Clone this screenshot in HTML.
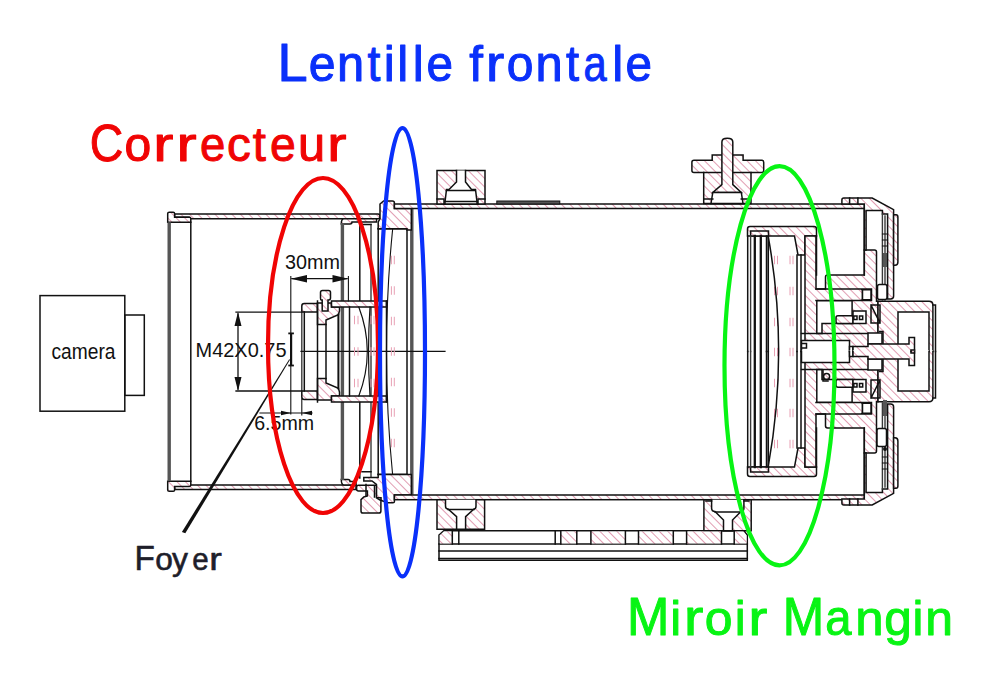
<!DOCTYPE html>
<html><head><meta charset="utf-8"><title>Diagram</title>
<style>
html,body{margin:0;padding:0;background:#fff;width:1000px;height:700px;overflow:hidden}
svg{display:block}
text{font-family:"Liberation Sans",sans-serif}
.k{fill:none;stroke:#111;stroke-width:1.5;stroke-linecap:square}
.g{fill:none;stroke:#3a3a3a;stroke-width:1.4;stroke-linecap:square}
.h{fill:url(#hat);stroke:#111;stroke-width:1.5}
.gb{fill:none;stroke:#555;stroke-width:3.4}
.hs{fill:url(#hat);stroke:none}
.ws{fill:#fff;stroke:none}
.d{stroke:#e8a0b4;stroke-width:1}
</style></head>
<body>
<svg width="1000" height="700" viewBox="0 0 1000 700">
<defs>
<pattern id="hat" patternUnits="userSpaceOnUse" width="6" height="6" patternTransform="rotate(-45)">
<rect width="6" height="6" fill="#fff"/>
<line x1="0" y1="0" x2="0" y2="6" stroke="#c43c66" stroke-width="1"/>
</pattern>
</defs>
<rect width="1000" height="700" fill="#fff"/>

<!-- labels -->
<g fill="#0a30fa" stroke="#0a30fa" stroke-width="1" stroke-linejoin="round" aria-label="Lentille frontale">
<text transform="matrix(1.0040 0 0 1 277.60 0)" y="80.6" font-size="54">L</text>
<text transform="matrix(0.9732 0 0 1 308.65 0)" y="80.6" font-size="49.5">e</text>
<text transform="matrix(0.9874 0 0 1 337.12 0)" y="80.6" font-size="49.5">n</text>
<text transform="matrix(0.9328 0 0 1 367.41 0)" y="80.6" font-size="49.5">t</text>
<text transform="matrix(1.0000 0 0 1 383.76 0)" y="80.6" font-size="49.5">i</text>
<text transform="matrix(1.0000 0 0 1 397.24 0)" y="80.6" font-size="49.5">l</text>
<text transform="matrix(1.0000 0 0 1 412.74 0)" y="80.6" font-size="49.5">l</text>
<text transform="matrix(0.9621 0 0 1 426.55 0)" y="80.6" font-size="49.5">e</text>
<text transform="matrix(0.9953 0 0 1 469.27 0)" y="80.6" font-size="49.5">f</text>
<text transform="matrix(1.1061 0 0 1 486.02 0)" y="80.6" font-size="49.5">r</text>
<text transform="matrix(0.9702 0 0 1 506.65 0)" y="80.6" font-size="49.5">o</text>
<text transform="matrix(0.9874 0 0 1 535.62 0)" y="80.6" font-size="49.5">n</text>
<text transform="matrix(0.9538 0 0 1 566.01 0)" y="80.6" font-size="49.5">t</text>
<text transform="matrix(0.8414 0 0 1 583.53 0)" y="80.6" font-size="49.5">a</text>
<text transform="matrix(1.0000 0 0 1 612.24 0)" y="80.6" font-size="49.5">l</text>
<text transform="matrix(0.9621 0 0 1 625.55 0)" y="80.6" font-size="49.5">e</text>
</g>
<g fill="#f00404" stroke="#f00404" stroke-width="1" stroke-linejoin="round" aria-label="Correcteur">
<text transform="matrix(0.8843 0 0 1 89.84 0)" y="161.2" font-size="52.5">C</text>
<text transform="matrix(1.0008 0 0 1 124.39 0)" y="161.2" font-size="48">o</text>
<text transform="matrix(1.2583 0 0 1 153.14 0)" y="161.2" font-size="48">r</text>
<text transform="matrix(1.2583 0 0 1 176.54 0)" y="161.2" font-size="48">r</text>
<text transform="matrix(0.9494 0 0 1 199.92 0)" y="161.2" font-size="48">e</text>
<text transform="matrix(0.9904 0 0 1 226.88 0)" y="161.2" font-size="48">c</text>
<text transform="matrix(0.9853 0 0 1 252.70 0)" y="161.2" font-size="48">t</text>
<text transform="matrix(0.9656 0 0 1 270.06 0)" y="161.2" font-size="48">e</text>
<text transform="matrix(1.0149 0 0 1 298.09 0)" y="161.2" font-size="48">u</text>
<text transform="matrix(1.2042 0 0 1 327.19 0)" y="161.2" font-size="48">r</text>
</g>
<g fill="#1e1e2a" stroke="#1e1e2a" stroke-width="0.6" stroke-linejoin="round" aria-label="Foyer">
<text transform="matrix(0.9519 0 0 1 134.38 0)" y="570.3" font-size="35">F</text>
<text transform="matrix(1.0043 0 0 1 155.20 0)" y="570.3" font-size="31.5">o</text>
<text transform="matrix(1.0124 0 0 1 172.02 0)" y="570.3" font-size="31.5">y</text>
<text transform="matrix(0.9378 0 0 1 192.31 0)" y="570.3" font-size="31.5">e</text>
<text transform="matrix(1.1984 0 0 1 209.27 0)" y="570.3" font-size="31.5">r</text>
</g>
<g fill="#08f414" stroke="#08f414" stroke-width="1" stroke-linejoin="round" aria-label="Miroir Mangin">
<text transform="matrix(0.9412 0 0 1 627.03 0)" y="635.3" font-size="54">M</text>
<text transform="matrix(1.0000 0 0 1 670.37 0)" y="635.3" font-size="49">i</text>
<text transform="matrix(1.1857 0 0 1 683.88 0)" y="635.3" font-size="49">r</text>
<text transform="matrix(1.0187 0 0 1 704.72 0)" y="635.3" font-size="49">o</text>
<text transform="matrix(1.0000 0 0 1 734.77 0)" y="635.3" font-size="49">i</text>
<text transform="matrix(1.1531 0 0 1 748.59 0)" y="635.3" font-size="49">r</text>
<text transform="matrix(0.9204 0 0 1 782.70 0)" y="635.3" font-size="54">M</text>
<text transform="matrix(0.9621 0 0 1 825.24 0)" y="635.3" font-size="49">a</text>
<text transform="matrix(1.0405 0 0 1 855.24 0)" y="635.3" font-size="49">n</text>
<text transform="matrix(1.0105 0 0 1 884.14 0)" y="635.3" font-size="49">g</text>
<text transform="matrix(1.0000 0 0 1 912.62 0)" y="635.3" font-size="49">i</text>
<text transform="matrix(1.0188 0 0 1 925.28 0)" y="635.3" font-size="49">n</text>
</g>
<!-- /labels -->

<!-- camera -->
<rect x="40" y="295.6" width="84.8" height="115.6" class="k"/>
<rect x="124.8" y="315" width="19.5" height="80.4" class="k"/>
<text x="51.5" y="359" font-size="21.5" fill="#111" textLength="64" lengthAdjust="spacingAndGlyphs">camera</text>


<!-- ===== left extension tube ===== -->
<g>
<path class="h" d="M174.6,214 H378 Q380,214 380,216.5 Q380,218.8 378,218.8 H174.6 Z"/>
<path class="h" d="M167.7,222.3 V213.6 Q167.7,212.3 169.2,212.3 H173.2 Q174.6,212.3 174.6,213.6 V217.2 H189.5 Q190.8,217.2 190.8,218.5 V222.3 Z"/>
<path class="k" d="M176,217.2 H189"/>
<path class="h" d="M174.6,485 H356 V489.4 H174.6 Z"/>
<path class="h" d="M167.7,481.2 V490 Q167.7,491.3 169.2,491.3 H173.2 Q174.6,491.3 174.6,490 V486.4 H189.5 Q190.8,486.4 190.8,485 V481.2 Z"/>
<line class="gb" x1="169.2" y1="222.3" x2="169.2" y2="481.2"/>
<line class="k" x1="190.8" y1="222.3" x2="190.8" y2="481.2"/>
<!-- inner sliding tube lip -->
<path class="h" d="M341.3,224 Q341.3,218.8 344,218.8 H376.5 V222 H352 Q352,224 350,224 Z"/>
<path class="h" d="M341.3,479.5 Q341.3,485 344,485 H356 V481.6 H350 Q350,479.5 348,479.5 Z"/>
<line class="gb" x1="342.4" y1="223" x2="342.4" y2="480"/>
<path class="k" d="M359.8,224.5 V301 M359.8,402 V478"/>
<line class="g" x1="371" y1="224.5" x2="371" y2="477"/>
<line class="k" x1="378.2" y1="228.5" x2="378.2" y2="474.5"/>
<line class="k" x1="407" y1="228.5" x2="407" y2="474.5"/>
<line class="k" x1="378.2" y1="228.8" x2="407" y2="228.8"/>
<line class="k" x1="378.2" y1="474.4" x2="407" y2="474.4"/>
<line class="gb" x1="411.8" y1="208.5" x2="411.8" y2="494.7"/>
<path class="k" style="stroke-width:1.1" d="M392.6,229.5 Q380.4,351.5 392.6,474.5"/>
<path class="k" d="M360,224.5 H371 M362,471.7 H371"/>
<!-- front lens flange top -->
<path class="h" d="M380,218.8 V204 L383.6,200.9 H392.4 Q394.4,200.9 394.4,203 V208.5 H411.3 V230 H407 V228.8 H378.2 V222 Z"/>
<!-- front lens flange bottom -->
<path class="h" d="M363.8,477.6 H378.2 V474.4 H411.3 V495 H394.4 V501.8 Q394.4,502.8 393,502.8 H388 L381,500.5 V497.8 H376.4 V484.3 L372,481 H363.8 Z"/>
<!-- bottom knob -->
<path class="h" d="M356.6,487 Q356.6,485.2 358.5,485.2 H376.4 V497.8 L380.9,500.5 V511 Q380.9,513.1 378.8,513.1 H363 Q361,513.1 361,511 V499.6 L363.8,496.9 L367.4,496 V491 H358.5 Q356.6,491 356.6,489 Z"/>
<path class="k" d="M366,484.5 V496 M374.5,486 V497"/>
</g>


<!-- ===== correcteur adapter ===== -->
<g>
<path class="h" d="M301.8,312 V306 Q301.8,303.5 304.3,303.5 H317.5 V312 Z"/>
<path class="h" d="M301.8,391 V397 Q301.8,399.5 304.3,399.5 H317.5 V391 Z"/>
<line class="g" x1="301.8" y1="312" x2="301.8" y2="391"/>
<line class="k" x1="304.3" y1="312" x2="304.3" y2="391"/>
<path class="h" d="M317.5,303 H331.5 V307 H339.5 V311 L338.4,314.6 L326,320 V324.6 H317.5 Z"/>
<path class="h" d="M317.5,400 H331.5 V396 H339.5 V392 L338.4,388.4 L326,383 V378.4 H317.5 Z"/>
<path class="h" d="M322.2,311 V300 H321 Q320.5,300 320.5,298 V292.5 Q320.5,290.5 322.5,290.5 H328.5 Q330.5,290.5 330.5,292.5 V298 Q330.5,300 328.5,300 H328 V311 Z"/>
<path class="h" d="M331.5,301 H386.5 V307 H331.5 Z"/>
<path class="h" d="M331.5,396 H386.5 V402 H331.5 Z"/>
<line class="k" x1="317.5" y1="301" x2="317.5" y2="402"/>
<line class="k" x1="326" y1="324.6" x2="326" y2="378.4"/>
<line class="k" style="stroke-width:2" x1="338.4" y1="314.6" x2="338.4" y2="388.4"/>
<line class="k" x1="349.5" y1="307" x2="349.5" y2="396"/>
<line class="k" x1="386.5" y1="301" x2="386.5" y2="402"/>
<path class="k" style="stroke-width:1.2" d="M358.8,307 Q375.8,351.5 358.8,396"/>
<path class="k" style="stroke-width:1.2" d="M370,307 Q367,351.5 370,396"/>

<line class="k" style="stroke-width:1.2" x1="301" y1="351.3" x2="445" y2="351.3"/>
</g>
<!-- ===== dimensions ===== -->
<g fill="#111">
<text x="285" y="269" font-size="21" textLength="55" lengthAdjust="spacingAndGlyphs">30mm</text>
<text x="195.5" y="357" font-size="21" textLength="91" lengthAdjust="spacingAndGlyphs">M42X0.75</text>
<text x="254.2" y="430" font-size="21" textLength="60" lengthAdjust="spacingAndGlyphs">6.5mm</text>
<line class="k" style="stroke-width:1.3" x1="292" y1="278.7" x2="347" y2="278.7"/>
<path d="M290.8,278.7 L307,275 V282.4 Z M348.4,278.7 L332.5,275 V282.4 Z"/>
<line class="k" style="stroke-width:1.1" x1="290.8" y1="276.6" x2="290.8" y2="414"/>
<line class="k" style="stroke-width:1.1" x1="348.4" y1="276.6" x2="348.4" y2="301"/>
<line class="k" style="stroke-width:1.3" x1="238" y1="314" x2="238" y2="389"/>
<path d="M238,312 L234.5,326 H241.5 Z M238,391 L234.5,377 H241.5 Z"/>
<line class="k" style="stroke-width:1.3" x1="236" y1="312.2" x2="301.8" y2="312.2"/>
<line class="k" style="stroke-width:1.3" x1="236" y1="391" x2="301.8" y2="391"/>
<rect x="290" y="333" width="2.2" height="33"/>
<rect x="288.3" y="332.5" width="5.6" height="1.8"/>
<rect x="288.3" y="364.6" width="5.6" height="1.8"/>
<line class="k" style="stroke-width:1.2" x1="260" y1="413" x2="312" y2="413"/>
<path d="M291,413 L281,410.8 V415.2 Z M301.8,413 L312,410.8 V415.2 Z"/>
<line class="k" style="stroke-width:1.1" x1="301.8" y1="399" x2="301.8" y2="415"/>
<path d="M289.2,359.3 L290,359.8 L185.3,533.3 L181.9,531.9 Z"/>
</g>

<!-- glass dashes -->
<path class="d" d="M391.4,255.75 V264.25 M391.4,286.25 V294.75 M391.4,316.75 V325.25 M391.4,347.25 V355.75 M391.4,377.75 V386.25 M391.4,408.25 V416.75 M391.4,438.75 V447.25 M394.3,255.75 V264.25 M394.3,286.25 V294.75 M394.3,316.75 V325.25 M394.3,347.25 V355.75 M394.3,377.75 V386.25 M394.3,408.25 V416.75 M394.3,438.75 V447.25 M354.5,315.75 V324.25 M354.5,347.25 V355.75 M354.5,378.75 V387.25 M358,315.75 V324.25 M358,347.25 V355.75 M358,378.75 V387.25 M371,315.75 V324.25 M371,347.25 V355.75 M371,378.75 V387.25 M374,315.75 V324.25 M374,347.25 V355.75 M374,378.75 V387.25 M774.5,255.75 V264.25 M774.5,286.75 V295.25 M774.5,317.75 V326.25 M774.5,347.75 V356.25 M774.5,378.75 V387.25 M774.5,408.75 V417.25 M774.5,439.75 V448.25 M777.5,255.75 V264.25 M777.5,286.75 V295.25 M777.5,317.75 V326.25 M777.5,347.75 V356.25 M777.5,378.75 V387.25 M777.5,408.75 V417.25 M777.5,439.75 V448.25 M790,255.75 V264.25 M790,286.75 V295.25 M790,317.75 V326.25 M790,347.75 V356.25 M790,378.75 V387.25 M790,408.75 V417.25 M790,439.75 V448.25 M793,255.75 V264.25 M793,286.75 V295.25 M793,317.75 V326.25 M793,347.75 V356.25 M793,378.75 V387.25 M793,408.75 V417.25 M793,439.75 V448.25"/>
<!-- main tube top & bottom -->
<rect x="394.4" y="204" width="470" height="4.5" class="h"/>
<rect x="394.4" y="495" width="470" height="4.7" class="h"/>
<rect x="496.8" y="201" width="63" height="3" fill="#555" stroke="#111" stroke-width="1"/>
<!-- top-left screw block -->
<g>
<path class="h" d="M437,204 V170.5 H485 V204 Z"/>
<path class="k" style="fill:#fff" d="M456.5,170.5 V182 L449,189.5 H446.5 L445,202 V204 H477 V202 L475.5,189.5 H471.5 L465.5,182 V170.5"/>
<path class="k" d="M446.5,190.5 H475 M445,201.5 H477 M437,199 H444 V204 M485,199 H478 V204"/>
</g>
<!-- bottom-left screw block -->
<g>
<path class="h" d="M437,499.7 V529.3 H484.6 V499.7 Z"/>
<path class="k" style="fill:#fff" d="M445.5,499.7 V506 Q445.5,509 448,509 L456.6,516.6 V529.3 H465.6 V516.6 L474,509 Q476,509 476,506 V499.7"/>
<path class="k" d="M448,509.5 H474"/>
</g>
<!-- bottom-right screw block -->
<g>
<path class="h" d="M703.9,499.7 V530.7 H751.2 V499.7 Z"/>
<path class="k" style="fill:#fff" d="M711.6,499.7 V508 Q711.6,511.5 715,511.5 L723.5,520 V530.7 H732.5 V520 L741,511.5 Q743.9,511.5 743.9,508 V499.7"/>
<path class="k" d="M715,512 H741 M706,501 H711.6 M744,501 H749"/>
</g>
<!-- top pin assembly -->
<g>
<path class="h" d="M703.7,203.4 V172.5 H694 Q691.9,172.5 691.9,170.5 V162.3 Q691.9,160.3 694,160.3 H712.2 V154.9 H743.1 V160.3 H761.7 Q763.7,160.3 763.7,162.3 V170.5 Q763.7,172.5 761.7,172.5 H751 V203.4 Z"/>
<path class="k" d="M703.7,172.5 H751"/>
<path class="h" d="M721.9,184.6 V142 Q721.9,138.3 727.3,138.3 Q732.8,138.3 732.8,142 V184.6 L741.3,192.5 H712.8 Z"/>
<path class="k" style="fill:#fff" d="M712.8,192.5 H741.3 L743,203.4 H711 Z"/>
<path class="k" d="M712.8,199 H704 M741.3,199 H750"/>
</g>
<!-- rail -->
<g>
<path class="k" fill="#fff" d="M443.8,530.7 H743.9 L747.3,535 V560.3 H439 V535 Z"/>
<path class="k" d="M439,543.9 H747.3 M439,551.1 H747.3 M439,558.6 H747.3"/>
<path class="h" style="stroke:none" d="M443.8,531.5 H452.3 V543.5 H439.8 V535.5 Z"/>
<path class="h" style="stroke:none" d="M560.8,531.5 H576.8 V543.5 H560.8 Z M590.9,531.5 H625.4 V543.5 H590.9 Z M638.5,531.5 H673.3 V543.5 H638.5 Z M686.6,531.5 H721.5 V543.5 H686.6 Z M734.2,531.5 H743.5 L746.5,535.5 V543.5 H734.2 Z"/>
<path class="k" d="M452.3,530.7 V543.9 M458.8,530.7 V543.9 M555.2,530.7 V543.9 M560.8,530.7 V543.9 M576.8,530.7 V543.9 M590.9,530.7 V543.9 M625.4,530.7 V543.9 M638.5,530.7 V543.9 M673.3,530.7 V543.9 M686.6,530.7 V543.9 M721.5,530.7 V543.9 M734.2,530.7 V543.9"/>
</g>

<!-- ===== mirror assembly ===== -->
<g>
<path class="h" d="M747.5,236 V229 Q747.5,226.5 750,226.5 H814 Q816.5,226.5 816.5,229 V236 H805 V255 H798 L794.5,236 Z"/>
<path class="h" d="M 747.5,467 V 474 Q 747.5,476.5 750,476.5 H 814 Q 816.5,476.5 816.5,474 V 467 H 805 V 448 H 798 L 794.5,467 Z"/>
<path class="h" d="M750.6,236 V231 H768.5 V236 Z"/>
<path class="h" d="M 750.6,467 V 472 H 768.5 V 467 Z"/>
<path class="hs" d="M805,351.5 V236 H816 V289 H825.5 V277 Q825.5,275 827.5,275 H864.3 V250 H874.5 Q876.5,250 876.5,252 V301.3 H878 V351.5 V352.7 H805 V351.5 Z"/>
<path class="k" d="M805,351.5 V236 H816 V289 H825.5 V277 Q825.5,275 827.5,275 H864.3 V250 H874.5 Q876.5,250 876.5,252 V301.3 H878 V351.5"/>
<path class="hs" d="M 805,351.5 V 467 H 816 V 414 H 825.5 V 426 Q 825.5,428 827.5,428 H 864.3 V 453 H 874.5 Q 876.5,453 876.5,451 V 401.7 H 878 V 351.5 V350.3 H805 V351.5 Z"/>
<path class="k" d="M 805,351.5 V 467 H 816 V 414 H 825.5 V 426 Q 825.5,428 827.5,428 H 864.3 V 453 H 874.5 Q 876.5,453 876.5,451 V 401.7 H 878 V 351.5"/>
<path class="h" d="M841.9,204 V200 Q841.9,198 843.8,198 H872.2 L893.6,209.6 V296 Q893.6,299 890.6,299 H887.6 V213.9 H882.4 V210.4 H866.1 V249.9 H864.3 V204 Z"/>
<path class="h" d="M 841.9,499 V 503 Q 841.9,505 843.8,505 H 872.2 L 893.6,493.4 V 407 Q 893.6,404 890.6,404 H 887.6 V 489.1 H 882.4 V 492.6 H 866.1 V 453.1 H 864.3 V 499 Z"/>
<path class="k" d="M849.6,198 V204 M857.9,198 V204"/>
<path class="k" d="M 849.6,505 V 499 M 857.9,505 V 499"/>
<path class="h" d="M893.6,214.7 H896 Q897.9,214.7 897.9,217 V262 Q897.9,265.3 895,265.3 H893.6 Z"/>
<path class="h" d="M 893.6,488.3 H 896 Q 897.9,488.3 897.9,486 V 441 Q 897.9,437.7 895,437.7 H 893.6 Z"/>
<path class="hs" d="M878,351.5 V301.3 H929 Q932.9,301.3 932.9,305 V351.5 V352.7 H878 V351.5 Z"/>
<path class="k" d="M878,351.5 V301.3 H929 Q932.9,301.3 932.9,305 V351.5"/>
<path class="hs" d="M 878,351.5 V 401.7 H 929 Q 932.9,401.7 932.9,398 V 351.5 V350.3 H878 V351.5 Z"/>
<path class="k" d="M 878,351.5 V 401.7 H 929 Q 932.9,401.7 932.9,398 V 351.5"/>
<path class="k" d="M932.9,305 H935.5 V351.5"/>
<path class="k" d="M 932.9,398 H 935.5 V 351.5"/>
<path class="k" d="M816,289 H871.5 V300.5 H816 M860.5,289 Q862.5,289 862.5,291 V298.5 Q862.5,300.5 860.5,300.5"/>
<path class="k" d="M 816,414 H 871.5 V 402.5 H 816 M 860.5,414 Q 862.5,414 862.5,412 V 404.5 Q 862.5,402.5 860.5,402.5"/>
<path class="k" style="fill:#fff" d="M862.5,289.8 H871 V299.8 H862.5 Z"/>
<path class="k" style="fill:#fff" d="M 862.5,413.2 H 871 V 403.2 H 862.5 Z"/>
<path class="k" style="fill:#fff" d="M816.8,300.7 H852.1 V323.6 H822 V333.5 H816.8 Z"/>
<path class="k" style="fill:#fff" d="M 816.8,402.3 H 852.1 V 379.4 H 822 V 369.5 H 816.8 Z"/>
<path class="h" d="M838,315.7 H853 V323.6 H838 Q836,323.6 836,321.6 V317.7 Q836,315.7 838,315.7 Z"/>
<path class="h" d="M 838,387.3 H 853 V 379.4 H 838 Q 836,379.4 836,381.4 V 385.3 Q 836,387.3 838,387.3 Z"/>
<path class="k" style="fill:#fff" d="M853,311 H866 V323.6 H853 Z"/>
<path class="k" style="fill:#fff" d="M 853,392 H 866 V 379.4 H 853 Z"/>
<path class="k" d="M853.8,316 H857 V319.5 H853.8 Z M859.5,316 H862.7 V319.5 H859.5 Z"/>
<path class="k" d="M 853.8,387 H 857 V 383.5 H 853.8 Z M 859.5,387 H 862.7 V 383.5 H 859.5 Z"/>
<path class="k" d="M871,305 H880 V323 H871 Z M871,305 L880,323"/>
<path class="k" d="M 871,398 H 880 V 380 H 871 Z M 871,398 L 880,380"/>
<path class="k" d="M801.5,333.5 H868"/>
<path class="k" d="M 801.5,369.5 H 868"/>
<path class="ws" d="M801.5,351.5 V340.5 H849.5 V351.5 V352.7 H801.5 V351.5 Z"/>
<path class="k" d="M801.5,351.5 V340.5 H849.5 V351.5"/>
<path class="ws" d="M 801.5,351.5 V 362.5 H 849.5 V 351.5 V350.3 H801.5 V351.5 Z"/>
<path class="k" d="M 801.5,351.5 V 362.5 H 849.5 V 351.5"/>
<path class="ws" d="M849.5,351.5 V346.5 H853 V351.5 V352.7 H849.5 V351.5 Z"/>
<path class="k" d="M849.5,351.5 V346.5 H853 V351.5"/>
<path class="ws" d="M 849.5,351.5 V 356.5 H 853 V 351.5 V350.3 H849.5 V351.5 Z"/>
<path class="k" d="M 849.5,351.5 V 356.5 H 853 V 351.5"/>
<path class="k" style="fill:#fff" d="M868,333 H882 V344 H868 Z"/>
<path class="k" style="fill:#fff" d="M 868,370 H 882 V 359 H 868 Z"/>
<path class="k" d="M879.5,331.5 H883 V344"/>
<path class="k" d="M 879.5,371.5 H 883 V 359"/>
<path class="ws" d="M898,351.5 V312 H929 V351.5 V352.7 H898 V351.5 Z"/>
<path class="k" d="M898,351.5 V312 H929 V351.5"/>
<path class="ws" d="M 898,351.5 V 391 H 929 V 351.5 V350.3 H898 V351.5 Z"/>
<path class="k" d="M 898,351.5 V 391 H 929 V 351.5"/>
<path class="hs" d="M853,351.5 V346.5 H868 V344 H909 V337.5 H914.5 V351.5 V352.7 H853 V351.5 Z"/>
<path class="k" d="M853,351.5 V346.5 H868 V344 H909 V337.5 H914.5 V351.5"/>
<path class="hs" d="M 853,351.5 V 356.5 H 868 V 359 H 909 V 365.5 H 914.5 V 351.5 V350.3 H853 V351.5 Z"/>
<path class="k" d="M 853,351.5 V 356.5 H 868 V 359 H 909 V 365.5 H 914.5 V 351.5"/>
<path class="k" d="M911,350 H914.5 M911,350 V351.5"/>
<path class="k" d="M 911,353 H 914.5 M 911,353 V 351.5"/>
<path class="g" d="M882.4,213.9 V300 M885,216 V300"/>
<path class="g" d="M 882.4,489.1 V 403 M 885,487 V 403"/>
<path class="k" d="M747.7,236 V351.5 M766.5,236 V351.5 M768.3,236 V351.5 M797,255 V351.5 M801,255 V351.5"/>
<path class="k" d="M 747.7,467 V 351.5 M 766.5,467 V 351.5 M 768.3,467 V 351.5 M 797,448 V 351.5 M 801,448 V 351.5"/>
<path class="k" style="stroke-width:2.3" d="M754.8,236 V467 M760.8,236 V467"/>
<path class="g" d="M750.6,236 V351.5"/>
<path class="g" d="M 750.6,467 V 351.5"/>
<path class="k" d="M768.3,237 Q789,351.5 768.3,466"/>
<path class="k" d="M864.3,208.6 V275 M816.5,236 V275"/>
<path class="k" d="M 864.3,494.4 V 428 M 816.5,467 V 428"/>
<path class="k" d="M802,343.5 H806.5 V348 H802"/>
<circle class="k" cx="826.6" cy="376.6" r="3"/>
<rect class="k" style="fill:#fff" x="877.5" y="284.5" width="9.5" height="15" rx="2"/>
<rect x="883" y="253" width="4" height="14" fill="#555"/>
<rect class="k" style="fill:#fff" x="877" y="428.6" width="9.5" height="18" rx="2"/>
<rect x="883" y="400" width="4" height="16" fill="#555"/>
<circle cx="885" cy="449" r="2" fill="#111"/>
<path class="k" style="stroke-width:1" d="M882.4,457 H887.6 M882.4,463 H887.6 M882.4,469 H887.6 M882.4,234 H887.6 M882.4,240 H887.6 M882.4,246 H887.6"/>
<path class="k" d="M823,370.5 V381 H828"/>
</g>

<!-- ellipses -->
<ellipse cx="323" cy="345.5" rx="55" ry="167.5" fill="none" stroke="#f00404" stroke-width="4.2"/>
<ellipse cx="402.5" cy="352.2" rx="22.5" ry="224.2" fill="none" stroke="#0a30fa" stroke-width="4.2"/>
<ellipse cx="779.5" cy="365.8" rx="55" ry="199.6" fill="none" stroke="#08f414" stroke-width="4.2"/>
</svg>
</body></html>
